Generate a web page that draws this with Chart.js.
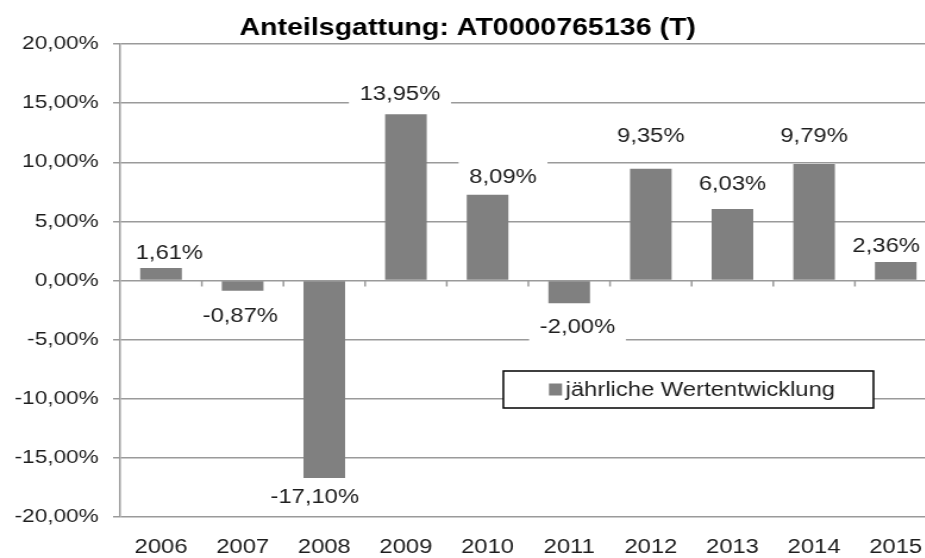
<!DOCTYPE html>
<html lang="de">
<head>
  <meta charset="UTF-8">
  <title>Anteilsgattung: AT0000765136 (T)</title>
  <script src="https://cdn.jsdelivr.net/npm/chart.js"></script>
  <style>
    html, body { margin: 0; padding: 0; background: #fff; overflow: hidden; }
    #wrap { width: 788px; height: 558px; transform: scaleX(1.19); transform-origin: 0 0; }
  </style>
</head>
<body>
  <div id="wrap">
    <canvas id="perfChart" width="788" height="558"></canvas>
  </div>

  <script>
    // Jahre und Balkenhöhen
    const years = ['2006', '2007', '2008', '2009', '2010', '2011', '2012', '2013', '2014', '2015'];
    const barValues = [1.05, -0.87, -16.7, 14.05, 7.26, -1.92, 9.44, 6.05, 9.86, 1.56];
    // Beschriftungen, wie sie im Bild stehen
    const printedValues = [1.61, -0.87, -17.10, 13.95, 8.09, -2.00, 9.35, 6.03, 9.79, 2.36];
    const yTicks = [20, 15, 10, 5, 0, -5, -10, -15, -20];

    const seriesName = 'jährliche Wertentwicklung';
    const chartTitle = 'Anteilsgattung: AT0000765136 (T)';

    // Label-Verschiebung relativ zum Balkenende [dx, dy]
    const labelNudge = [[7, -15], [-2, 26], [-8, 20], [-5, -20], [13, -17], [7, 24], [0, -32], [0, -24], [0, -27], [-8, -16]];

    const barColor = '#808080';
    const gridColor = '#9a9a9a';
    const textColor = '#1e1e1e';
    const fontFamily = "'Liberation Sans', Arial, sans-serif";

    function fmt(v) {
      return v.toFixed(2).replace('.', ',') + '%';
    }

    const overlayPlugin = {
      id: 'overlay',
      beforeDatasetsDraw(chart) {
        const { ctx, scales: { x, y } } = chart;
        ctx.save();
        // kleine Striche an der Nulllinie
        const y0 = y.getPixelForValue(0);
        ctx.strokeStyle = gridColor;
        ctx.lineWidth = 1.5;
        for (let i = 1; i <= years.length; i++) {
          const px = x.getPixelForValue(i - 0.5);
          ctx.beginPath();
          ctx.moveTo(px, y0);
          ctx.lineTo(px, y0 + 6);
          ctx.stroke();
        }
        // weiße Hintergründe der Datenbeschriftungen
        ctx.font = '20px ' + fontFamily;
        const meta = chart.getDatasetMeta(0);
        meta.data.forEach((bar, i) => {
          const txt = fmt(printedValues[i]);
          const w = ctx.measureText(txt).width;
          const cx = bar.x + labelNudge[i][0];
          const cy = bar.y + labelNudge[i][1];
          ctx.fillStyle = '#fff';
          ctx.fillRect(cx - w / 2 - 9, cy - 17, w + 18, 34);
        });
        ctx.restore();
      },
      afterDatasetsDraw(chart) {
        const { ctx } = chart;
        ctx.save();
        ctx.font = '20px ' + fontFamily;
        ctx.fillStyle = textColor;
        ctx.textAlign = 'center';
        ctx.textBaseline = 'middle';
        const meta = chart.getDatasetMeta(0);
        meta.data.forEach((bar, i) => {
          ctx.fillText(fmt(printedValues[i]), bar.x + labelNudge[i][0], bar.y + labelNudge[i][1]);
        });

        // Legende
        const lx = 423, ly = 371, lw = 311, lh = 37;
        ctx.fillStyle = '#fff';
        ctx.fillRect(lx, ly, lw, lh);
        ctx.strokeStyle = '#000';
        ctx.lineWidth = 1.5;
        ctx.strokeRect(lx, ly, lw, lh);
        const tw = ctx.measureText(seriesName).width;
        const start = lx + lw / 2 - (11 + 3 + tw) / 2 + 3;
        ctx.fillStyle = barColor;
        ctx.fillRect(start, ly + lh / 2 - 6, 11, 12);
        ctx.fillStyle = textColor;
        ctx.textAlign = 'left';
        ctx.fillText(seriesName, start + 14, ly + lh / 2 + 1);

        // Titel
        ctx.font = 'bold 24px ' + fontFamily;
        ctx.fillStyle = '#000';
        ctx.textAlign = 'center';
        ctx.fillText(chartTitle, 393, 28);
        ctx.restore();
      }
    };

    const ctx = document.getElementById('perfChart').getContext('2d');
    const perfChart = new Chart(ctx, {
      type: 'bar',
      data: {
        labels: years,
        datasets: [{
          label: seriesName,
          data: barValues,
          backgroundColor: barColor,
          borderWidth: 0,
          categoryPercentage: 0.51,
          barPercentage: 1
        }]
      },
      options: {
        responsive: false,
        animation: false,
        layout: { padding: { top: 44, left: 5, right: 1, bottom: 0 } },
        plugins: {
          legend: { display: false },
          title: { display: false },
          tooltip: { enabled: false }
        },
        scales: {
          x: {
            grid: { display: false },
            border: { display: false },
            ticks: {
              color: textColor,
              padding: 10,
              font: { family: fontFamily, size: 20 },
              maxRotation: 0
            },
            afterFit: (s) => { s.height = 41; }
          },
          y: {
            min: yTicks[yTicks.length - 1],
            max: yTicks[0],
            afterBuildTicks: (s) => { s.ticks = yTicks.map(v => ({ value: v })); },
            grid: { color: gridColor, lineWidth: 1.5, tickLength: 6, drawTicks: true },
            border: { display: true, color: gridColor, width: 1.5 },
            ticks: {
              color: textColor,
              padding: 12,
              font: { family: fontFamily, size: 19 },
              callback: (v) => fmt(v)
            },
            afterFit: (s) => { s.width = 96; }
          }
        }
      },
      plugins: [overlayPlugin]
    });
  </script>
</body>
</html>
